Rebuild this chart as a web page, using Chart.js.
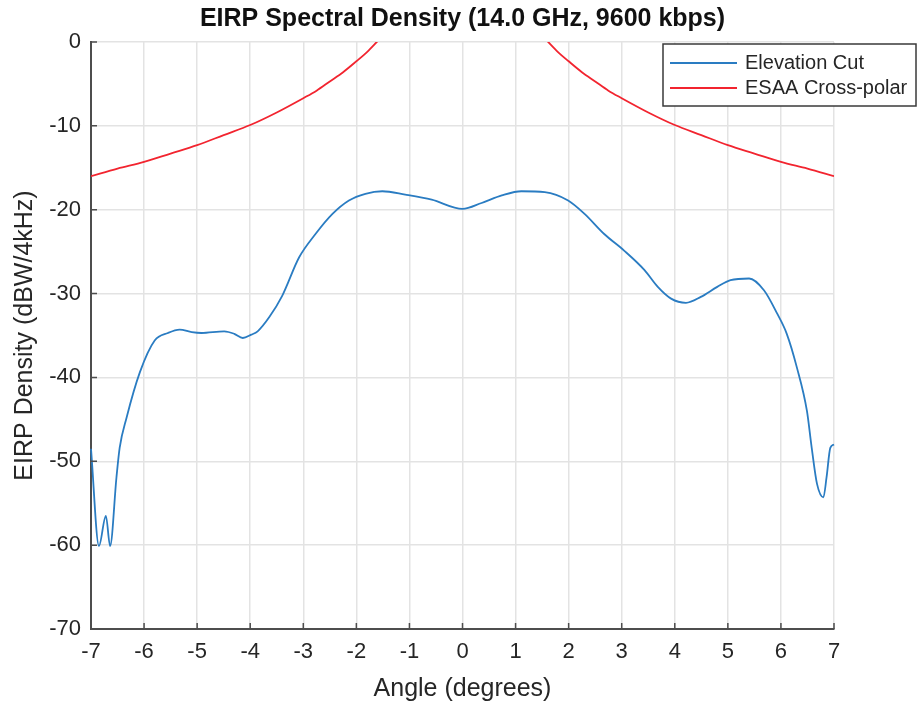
<!DOCTYPE html>
<html lang="en">
<head>
    <meta charset="UTF-8">
    <title>EIRP Spectral Density</title>
    <script src="https://cdn.jsdelivr.net/npm/chart.js"></script>
    <style>
        body { margin: 0; background: #fff; }
        canvas { display: block; }
    </style>
</head>
<body>
    <canvas id="eirpChart" width="917" height="705"></canvas>
    <script>
        // measured elevation cut (deg, dBW/4kHz)
        const cutAngle = [-7.00, -6.85, -6.72, -6.64, -6.52, -6.46, -6.33, -6.08, -5.80, -5.55, -5.33, -5.10, -4.92,
            -4.49, -4.30, -4.14, -3.98, -3.86, -3.64, -3.40, -3.08, -2.77, -2.45, -2.14, -1.83, -1.51, -1.08, -0.58,
            0.00, 0.36, 0.74, 1.11, 1.55, 1.99, 2.30, 2.67, 3.05, 3.43, 3.68, 3.93, 4.21, 4.49, 4.80, 5.05, 5.40,
            5.68, 5.93, 6.11, 6.30, 6.49, 6.58, 6.68, 6.80, 6.86, 6.93, 7.00];
        const cutEirp = [-48.5, -60.1, -56.5, -60.1, -51.9, -48.4, -44.8, -39.4, -35.6, -34.7, -34.3, -34.6, -34.7,
            -34.5, -34.8, -35.3, -34.9, -34.5, -32.8, -30.3, -25.7, -22.9, -20.5, -18.9, -18.1, -17.8, -18.2, -18.8,
            -19.9, -19.2, -18.3, -17.8, -17.9, -18.9, -20.5, -22.9, -24.9, -27.2, -29.2, -30.6, -31.1, -30.4, -29.2,
            -28.4, -28.2, -29.6, -32.4, -34.8, -38.8, -44.0, -48.4, -52.7, -54.3, -51.9, -48.4, -48.0];

        // ESAA cross-polar mask, both sides (null = gap)
        const maskAngle = [-7.0, -6.5, -6.0, -5.5, -5.0, -4.5, -4.0, -3.5, -3.0, -2.75, -2.5, -2.25, -2.0, -1.8, -1.6,
            0, 1.6, 1.8, 2.0, 2.25, 2.5, 2.75, 3.0, 3.5, 4.0, 4.5, 5.0, 5.5, 6.0, 6.5, 7.0];
        const maskEirp = [-16.0, -15.1, -14.3, -13.3, -12.3, -11.1, -9.9, -8.4, -6.7, -5.8, -4.7, -3.6, -2.3, -1.2, 0.1,
            null, 0.1, -1.2, -2.3, -3.6, -4.7, -5.8, -6.7, -8.4, -9.9, -11.1, -12.3, -13.3, -14.3, -15.1, -16.0];

        const seriesNames = ["Elevation Cut", "ESAA Cross-polar"];
        const seriesColors = ["#2a7cc2", "#f2242f"];

        const FONT = "'Liberation Sans', Arial, sans-serif";
        const axisColor = "#4d4d4d";
        const textColor = "#262626";

        function toPoints(xs, ys) {
            return xs.map((x, i) => ({ x: x, y: ys[i] }));
        }

        // MATLAB style inward ticks
        const innerTicks = {
            id: "innerTicks",
            afterDraw(chart) {
                const ctx = chart.ctx;
                const area = chart.chartArea;
                const xs = chart.scales.x, ys = chart.scales.y;
                ctx.save();
                ctx.strokeStyle = axisColor;
                ctx.lineWidth = 1.5;
                ctx.beginPath();
                xs.ticks.forEach(t => {
                    const px = xs.getPixelForValue(t.value);
                    ctx.moveTo(px, area.bottom);
                    ctx.lineTo(px, area.bottom - 6);
                });
                ys.ticks.forEach(t => {
                    const py = ys.getPixelForValue(t.value);
                    ctx.moveTo(area.left, py);
                    ctx.lineTo(area.left + 6, py);
                });
                ctx.stroke();
                ctx.restore();
            }
        };

        // boxed legend in the upper right corner
        const boxLegend = {
            id: "boxLegend",
            afterDraw(chart) {
                const ctx = chart.ctx;
                const left = 663, top = 44, w = 253, h = 62;
                ctx.save();
                ctx.fillStyle = "#fff";
                ctx.fillRect(left, top, w, h);
                ctx.strokeStyle = "#3a3a3a";
                ctx.lineWidth = 1.5;
                ctx.strokeRect(left, top, w, h);
                ctx.font = "20px " + FONT;
                ctx.textBaseline = "middle";
                ctx.fillStyle = textColor;
                chart.data.datasets.forEach((ds, i) => {
                    const y = top + 19 + i * 25;
                    ctx.strokeStyle = ds.borderColor;
                    ctx.lineWidth = 1.8;
                    ctx.beginPath();
                    ctx.moveTo(left + 7, y);
                    ctx.lineTo(left + 74, y);
                    ctx.stroke();
                    ctx.fillText(ds.label, left + 82, y);
                });
                ctx.restore();
            }
        };

        new Chart(document.getElementById("eirpChart"), {
            type: "line",
            data: {
                datasets: [{
                    label: seriesNames[0],
                    data: toPoints(cutAngle, cutEirp),
                    borderColor: seriesColors[0],
                    borderWidth: 1.8,
                    pointRadius: 0,
                    cubicInterpolationMode: "monotone",
                    clip: 2
                }, {
                    label: seriesNames[1],
                    data: toPoints(maskAngle, maskEirp),
                    borderColor: seriesColors[1],
                    borderWidth: 1.8,
                    pointRadius: 0,
                    spanGaps: false,
                    cubicInterpolationMode: "monotone",
                    clip: 0
                }]
            },
            options: {
                responsive: false,
                animation: false,
                layout: { padding: { left: 0, right: 83, top: 0, bottom: 0 } },
                plugins: {
                    legend: { display: false },
                    tooltip: { enabled: false },
                    title: {
                        display: true,
                        fullSize: false,
                        text: "EIRP Spectral Density (14.0 GHz, 9600 kbps)",
                        color: "#111",
                        font: { family: FONT, size: 25, weight: "bold", lineHeight: 1.2 },
                        padding: { top: 4, bottom: 8 }
                    }
                },
                scales: {
                    x: {
                        type: "linear",
                        min: -7,
                        max: 7,
                        afterFit(scale) { scale.height = 76; },
                        ticks: {
                            stepSize: 1,
                            autoSkip: false,
                            maxRotation: 0,
                            padding: 10,
                            color: textColor,
                            font: { family: FONT, size: 22 }
                        },
                        grid: { color: "#e3e3e3", lineWidth: 1.5, drawTicks: false },
                        border: { color: axisColor, width: 2 },
                        title: {
                            display: true,
                            text: "Angle (degrees)",
                            color: textColor,
                            font: { family: FONT, size: 25, lineHeight: 1.2 },
                            padding: { top: 0, bottom: 1 }
                        }
                    },
                    y: {
                        min: -70,
                        max: 0,
                        afterFit(scale) { scale.width = 91; },
                        ticks: {
                            stepSize: 10,
                            padding: 10,
                            color: textColor,
                            font: { family: FONT, size: 22 }
                        },
                        grid: { color: "#e3e3e3", lineWidth: 1.5, drawTicks: false },
                        border: { color: axisColor, width: 2 },
                        title: {
                            display: true,
                            text: "EIRP Density (dBW/4kHz)",
                            color: textColor,
                            font: { family: FONT, size: 25, lineHeight: 1.2 },
                            padding: { top: 10, bottom: 0 }
                        }
                    }
                }
            },
            plugins: [innerTicks, boxLegend]
        });
    </script>
</body>
</html>
